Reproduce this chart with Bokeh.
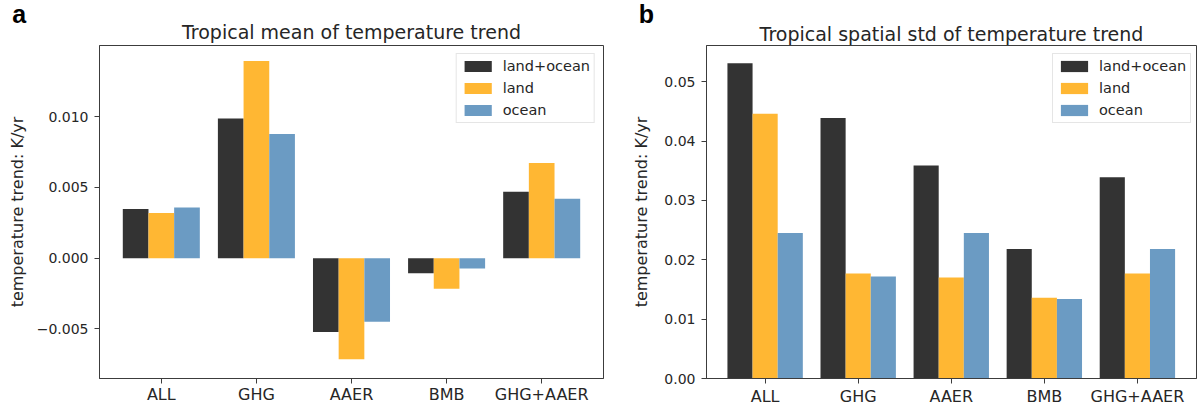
from bokeh.plotting import figure
from bokeh.models import ColumnDataSource, FixedTicker, Range1d, Title
from bokeh.layouts import row
from bokeh.embed import file_html
from bokeh.resources import INLINE

# ---------------- data ----------------
categories = ["ALL", "GHG", "AAER", "BMB", "GHG+AAER"]
series_names = ["land+ocean", "land", "ocean"]
series_colors = ["#333333", "#FFB733", "#6B9BC3"]

mean_land_ocean = [0.00347, 0.00988, -0.00521, -0.00106, 0.00469]
mean_land = [0.00319, 0.01394, -0.00714, -0.00216, 0.00673]
mean_ocean = [0.00359, 0.00877, -0.00449, -0.00073, 0.00420]

std_land_ocean = [0.0531, 0.0439, 0.0359, 0.0218, 0.0339]
std_land = [0.0446, 0.0177, 0.0170, 0.0136, 0.0177]
std_ocean = [0.0245, 0.0172, 0.0245, 0.0134, 0.0218]

mean_ticks = [-0.005, 0.0, 0.005, 0.010]
mean_tick_labels = ["\u22120.005", "0.000", "0.005", "0.010"]
std_ticks = [0.0, 0.01, 0.02, 0.03, 0.04, 0.05]
std_tick_labels = ["0.00", "0.01", "0.02", "0.03", "0.04", "0.05"]

title_a = "Tropical mean of temperature trend"
title_b = "Tropical spatial std of temperature trend"
y_label = "temperature trend: K/yr"

FONT = "DejaVu Sans"
TXT = "#262626"
SPINE = "#3c3c3c"
BAR_W = 0.27
OFFSETS = [-BAR_W, 0.0, BAR_W]
FIG_H = 408


def make_panel(width, mbl, mbr, xr, yr, series, ticks, tick_labels,
               letter, letter_offset, letter_standoff,
               title, title_standoff, label_standoff, cat_standoff):
    p = figure(width=width, height=FIG_H, x_range=Range1d(*xr), y_range=Range1d(*yr),
               output_backend="svg", toolbar_location=None,
               min_border_left=mbl, min_border_right=mbr,
               min_border_top=45, min_border_bottom=29)
    # panel letter (outer title) and chart title (inner title)
    p.title = Title(text=letter, align="left", offset=letter_offset,
                    text_font="Liberation Sans", text_font_size="25px",
                    text_font_style="bold", text_color="black", standoff=letter_standoff)
    p.add_layout(Title(text=title, align="center",
                       text_font=FONT, text_font_size="19px", text_font_style="normal",
                       text_color=TXT, standoff=title_standoff), "above")
    p.background_fill_color = "white"
    p.border_fill_color = "white"
    p.outline_line_color = SPINE
    p.outline_line_width = 1
    p.xgrid.visible = False
    p.ygrid.visible = False

    for k, (name, vals, col) in enumerate(zip(series_names, series, series_colors)):
        src = ColumnDataSource(dict(x=[i + OFFSETS[k] for i in range(len(categories))],
                                    top=vals))
        p.vbar(x="x", top="top", bottom=0, width=BAR_W, source=src,
               fill_color=col, line_color=None, legend_label=name)

    # y axis
    ya = p.yaxis[0]
    ya.ticker = FixedTicker(ticks=ticks)
    ya.major_label_overrides = {t: l for t, l in zip(ticks, tick_labels)}
    ya.major_label_text_font = FONT
    ya.major_label_text_font_size = "14px"
    ya.major_label_text_color = TXT
    ya.major_label_standoff = 6
    ya.major_tick_out = 5
    ya.major_tick_in = 0
    ya.minor_tick_line_color = None
    ya.major_tick_line_color = SPINE
    ya.axis_line_color = SPINE
    ya.axis_label = y_label
    ya.axis_label_text_font = FONT
    ya.axis_label_text_font_size = "16px"
    ya.axis_label_text_font_style = "normal"
    ya.axis_label_text_color = TXT
    ya.axis_label_standoff = label_standoff

    # x axis with category names
    xa = p.xaxis[0]
    xa.ticker = FixedTicker(ticks=list(range(len(categories))))
    xa.major_label_overrides = {i: c for i, c in enumerate(categories)}
    xa.major_label_text_font = FONT
    xa.major_label_text_font_size = "16px"
    xa.major_label_text_color = TXT
    xa.major_label_standoff = cat_standoff
    xa.major_tick_out = 5
    xa.major_tick_in = 0
    xa.minor_tick_line_color = None
    xa.major_tick_line_color = SPINE
    xa.axis_line_color = SPINE
    xa.axis_label = None

    lg = p.legend[0]
    lg.label_text_font = FONT
    lg.label_text_font_size = "14.5px"
    lg.label_text_color = TXT
    lg.glyph_width = 34
    lg.glyph_height = 14
    lg.label_height = 16
    lg.spacing = 6
    lg.padding = 4
    lg.label_standoff = 8
    lg.margin = 8
    lg.border_line_color = "#cccccc"
    lg.border_line_width = 1
    lg.background_fill_alpha = 0.8
    return p


p1 = make_panel(620, 99, 17, (-0.65, 4.65), (-0.0085, 0.01503),
                [mean_land_ocean, mean_land, mean_ocean], mean_ticks, mean_tick_labels,
                "a", -87.3, -25, title_a, 6, 7, 1)
p1.legend[0].location = "top_right"

p2 = make_panel(577, 86, 1, (-0.63, 4.635), (0.0, 0.0561),
                [std_land_ocean, std_land, std_ocean], std_ticks, std_tick_labels,
                "b", -67.7, -17, title_b, 2, 10, 3)
p2.legend[0].location = (346, 255)

layout = row(p1, p2)
open("out.html", "w").write(file_html(layout, INLINE))
